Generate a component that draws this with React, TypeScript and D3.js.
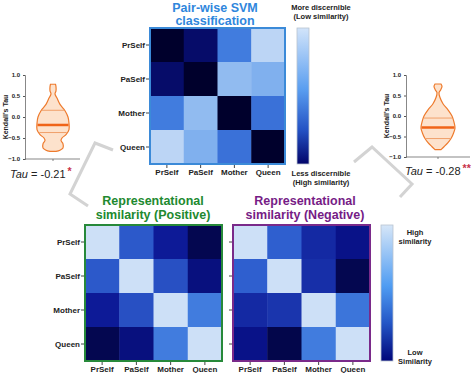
import React, { useRef, useEffect } from "react";
import * as d3 from "d3";

const labels = ["PrSelf", "PaSelf", "Mother", "Queen"];

// pair-wise SVM discriminability (0 = dark, 1 = light)
const svmValues = [
  [0.0, 0.12, 0.6, 0.96],
  [0.12, 0.0, 0.86, 0.82],
  [0.6, 0.86, 0.0, 0.54],
  [0.96, 0.82, 0.54, 0.0],
];
// representational similarity, positive
const posValues = [
  [1.0, 0.43, 0.22, 0.07],
  [0.43, 1.0, 0.4, 0.16],
  [0.22, 0.4, 1.0, 0.6],
  [0.07, 0.16, 0.6, 1.0],
];
// representational similarity, negative
const negValues = [
  [1.0, 0.45, 0.27, 0.18],
  [0.45, 1.0, 0.29, 0.07],
  [0.27, 0.31, 1.0, 0.56],
  [0.18, 0.06, 0.6, 1.0],
];

// violin profiles: [tau, half width]
const violinLeft: [number, number][] = [
  [0.78, 2.5], [0.72, 3], [0.62, 3], [0.55, 2], [0.45, 4], [0.3, 7],
  [0.15, 12], [0.0, 15], [-0.15, 16], [-0.3, 16], [-0.42, 13], [-0.5, 9],
  [-0.56, 8], [-0.64, 10], [-0.74, 10], [-0.79, 7], [-0.82, 3],
];
const violinRight: [number, number][] = [
  [0.78, 3], [0.72, 4], [0.63, 2.5], [0.57, 1], [0.45, 2], [0.3, 5],
  [0.15, 10], [0.0, 14], [-0.15, 16], [-0.3, 17], [-0.45, 15], [-0.55, 13],
  [-0.65, 10], [-0.75, 6], [-0.82, 3],
];
const quartLeft = [0.16, -0.19, -0.37];
const quartRight = [-0.05, -0.28, -0.55];
const tauTicks = [1.0, 0.5, 0.0, -0.5, -1.0];

const FONT = "Liberation Sans, Arial, sans-serif";

const color = d3
  .scaleLinear<string>()
  .domain([0, 0.2, 0.45, 0.7, 1])
  .range(["#00002c", "#0a1492", "#2f5fcf", "#4d90e8", "#cde0f7"]);

const App: React.FC = () => {
  const svg = useRef<SVGSVGElement>(null);

  useEffect(() => {
    const root = d3.select(svg.current);
    root.selectAll("*").remove();
    const defs = root.append("defs");

    const gradient = (id: string, stops: [number, string][]) => {
      const lg = defs
        .append("linearGradient")
        .attr("id", id)
        .attr("x1", 0).attr("x2", 0).attr("y1", 0).attr("y2", 1);
      stops.forEach(([o, c]) =>
        lg.append("stop").attr("offset", o).attr("stop-color", c)
      );
    };
    gradient("cbTop", [[0, "#d2e4fa"], [0.45, "#5a9ef0"], [0.75, "#2452c4"], [1, "#02046a"]]);
    gradient("cbBot", [[0, "#d6e6f8"], [0.45, "#4f9cf2"], [0.72, "#2456c6"], [1, "#00067a"]]);

    // decorative brackets
    const line = d3.line();
    const brackets: [number, number][][] = [
      [[113, 150], [95, 143], [70, 194], [88, 206]],
      [[354, 162], [372, 147], [412, 184], [400, 197]],
    ];
    root.selectAll("path.bracket")
      .data(brackets)
      .join("path")
      .attr("class", "bracket")
      .attr("d", (d) => line(d))
      .attr("fill", "none")
      .attr("stroke", "#d3d3d3")
      .attr("stroke-width", 3);

    const heatmap = (
      x0: number, y0: number, w: number, h: number,
      values: number[][], border: string, yLabels: boolean
    ) => {
      const g = root.append("g").attr("transform", `translate(${x0},${y0})`);
      const x = d3.scaleBand<string>().domain(labels).range([0, w]);
      const y = d3.scaleBand<string>().domain(labels).range([0, h]);
      const cells = values.flatMap((row, i) =>
        row.map((v, j) => ({ r: labels[i], c: labels[j], v }))
      );
      g.selectAll("rect.cell")
        .data(cells)
        .join("rect")
        .attr("class", "cell")
        .attr("x", (d) => x(d.c)!)
        .attr("y", (d) => y(d.r)!)
        .attr("width", x.bandwidth() + 0.5)
        .attr("height", y.bandwidth() + 0.5)
        .attr("fill", (d) => color(d.v));
      g.append("rect")
        .attr("width", w).attr("height", h)
        .attr("fill", "none").attr("stroke", border).attr("stroke-width", 2);

      const ya = g.append("g").call(
        d3.axisLeft(y).tickSize(3).tickSizeOuter(0).tickFormat((d) => (yLabels ? d : ""))
      );
      ya.select(".domain").remove();
      ya.selectAll("line").attr("stroke", "#444").attr("transform", "translate(-1,0)");
      ya.selectAll("text")
        .attr("font-family", FONT).attr("font-size", 8).attr("font-weight", "bold")
        .attr("fill", "#222").attr("x", -5);

      const xa = g.append("g").attr("transform", `translate(0,${h})`).call(
        d3.axisBottom(x).tickSize(3).tickSizeOuter(0)
      );
      xa.select(".domain").remove();
      xa.selectAll("line").attr("stroke", "#444").attr("transform", "translate(0,1)");
      xa.selectAll("text")
        .attr("font-family", FONT).attr("font-size", 8).attr("font-weight", "bold")
        .attr("fill", "#222").attr("y", 5);
    };

    const text = (
      x: number, y: number, s: string, size: number, fill: string,
      anchor = "middle", weight = "bold"
    ) =>
      root.append("text")
        .attr("x", x).attr("y", y).attr("text-anchor", anchor)
        .attr("font-family", FONT).attr("font-size", size)
        .attr("font-weight", weight).attr("fill", fill).text(s);

    // top SVM
    text(215, 12, "Pair-wise SVM", 12.5, "#2f86dc");
    text(215, 25, "classification", 12.5, "#2f86dc");
    heatmap(150, 28, 135, 136, svmValues, "#3b8ad8", true);
    root.append("rect").attr("x", 297).attr("y", 28).attr("width", 12).attr("height", 136)
      .attr("fill", "url(#cbTop)").attr("stroke", "#b8c4d0").attr("stroke-width", 0.8);
    text(321, 10, "More discernible", 7.5, "#222");
    text(321, 19, "(Low similarity)", 7.5, "#222");
    text(321, 176, "Less discernible", 7.5, "#222");
    text(321, 185, "(High similarity)", 7.5, "#222");

    // bottom RSA
    text(153, 205, "Representational", 12.5, "#21892f");
    text(153, 219, "similarity (Positive)", 12.5, "#21892f");
    heatmap(85, 225, 137, 136, posValues, "#27893a", true);
    text(305, 205, "Representational", 12.5, "#761c86");
    text(305, 219, "similarity (Negative)", 12.5, "#761c86");
    heatmap(233, 225, 137, 136, negValues, "#7a2a8a", false);
    root.append("rect").attr("x", 381).attr("y", 225).attr("width", 12).attr("height", 136)
      .attr("fill", "url(#cbBot)").attr("stroke", "#b8c4d0").attr("stroke-width", 0.8);
    text(415, 235, "High", 7.5, "#222");
    text(415, 244, "similarity", 7.5, "#222");
    text(415, 355, "Low", 7.5, "#222");
    text(415, 364, "Similarity", 7.5, "#222");

    // violins
    const violin = (
      ax: number, cx: number, xEnd: number, top: number, bottom: number,
      profile: [number, number][], quart: number[]
    ) => {
      const y = d3.scaleLinear().domain([-1, 1]).range([bottom, top]);
      const wScale = d3.scaleLinear().domain([0, 17]).range([0, 17]);
      const g = root.append("g");
      const ya = g.append("g").attr("transform", `translate(${ax},0)`).call(
        d3.axisLeft(y).tickValues(tauTicks).tickSize(2).tickFormat(d3.format(".1f"))
      );
      ya.select(".domain").attr("stroke", "#555").attr("stroke-width", 0.7);
      ya.selectAll("line").attr("stroke", "#555");
      ya.selectAll("text")
        .attr("font-family", FONT).attr("font-size", 6).attr("font-weight", "bold").attr("fill", "#222");
      g.append("line").attr("x1", ax).attr("x2", xEnd).attr("y1", bottom).attr("y2", bottom)
        .attr("stroke", "#555").attr("stroke-width", 0.7);
      g.append("line").attr("x1", cx).attr("x2", cx).attr("y1", bottom).attr("y2", bottom + 2)
        .attr("stroke", "#555").attr("stroke-width", 0.7);
      g.append("text")
        .attr("transform", `translate(${ax - 17},${y(0)}) rotate(-90)`)
        .attr("text-anchor", "middle")
        .attr("font-family", FONT).attr("font-size", 7).attr("font-weight", "bold")
        .attr("fill", "#222").text("Kendall's Tau");

      const area = d3.area<[number, number]>()
        .y((d) => y(d[0]))
        .x0((d) => cx - wScale(d[1]))
        .x1((d) => cx + wScale(d[1]))
        .curve(d3.curveCatmullRom);
      g.append("path").attr("d", area(profile)!)
        .attr("fill", "#fde2cc").attr("stroke", "#ee7a2c").attr("stroke-width", 1.2);

      const halfW = d3.scaleLinear()
        .domain(profile.map((d) => d[0]).reverse())
        .range(profile.map((d) => d[1]).reverse());
      quart.forEach((q, i) => {
        const hw = wScale(halfW(q)) - 0.5;
        g.append("line")
          .attr("x1", cx - hw).attr("x2", cx + hw).attr("y1", y(q)).attr("y2", y(q))
          .attr("stroke", i === 1 ? "#f06418" : "#f0a06a")
          .attr("stroke-width", i === 1 ? 2.5 : 1);
      });
    };
    violin(25, 53, 80, 75, 159, violinLeft, quartLeft);
    violin(406, 438, 470, 75, 157, violinRight, quartRight);

    const tau = (x: number, y: number, val: string, stars: string) => {
      const t = root.append("text").attr("x", x).attr("y", y)
        .attr("font-family", FONT).attr("font-size", 11).attr("fill", "#222");
      t.append("tspan").attr("font-style", "italic").text("Tau");
      t.append("tspan").text(` = ${val}`);
      t.append("tspan").attr("fill", "#c8324a").attr("font-weight", "bold")
        .attr("dx", 2).attr("dy", -3).attr("font-size", 10.5).text(stars);
    };
    tau(10, 178, "-0.21", "*");
    tau(405, 175, "-0.28", "**");
  }, []);

  return (
    <svg
      ref={svg}
      width={474}
      height={373}
      style={{ position: "absolute", left: 0, top: 0, background: "#fff" }}
    ></svg>
  );
};

export default App;
